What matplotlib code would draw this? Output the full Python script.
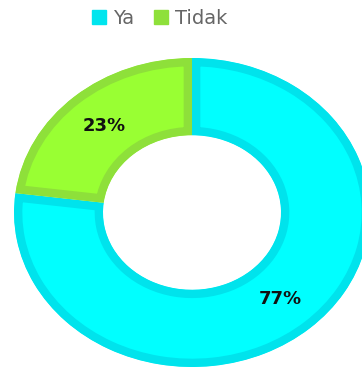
import matplotlib.pyplot as plt
from matplotlib.lines import Line2D

labels = ["Ya", "Tidak"]
values = [77, 23]
fill_colors = ["#00FFFF", "#99FF33"]
edge_colors = ["#00E3EC", "#8EE03A"]

fig = plt.figure(figsize=(3.62, 3.67), dpi=100)
ax = fig.add_axes([14 / 362, 0 / 367, 356 / 362, 309 / 367])

wedges, texts, autotexts = ax.pie(
    values, colors=fill_colors, startangle=90, counterclock=False,
    radius=1, autopct="%1.0f%%", pctdistance=0.75,
    wedgeprops=dict(width=0.5, linewidth=12),
    textprops=dict(fontsize=13, fontweight="bold", color="#111111"),
)
ax.set_aspect("auto")
ax.set_xlim(-1, 1)
ax.set_ylim(-1, 1)
ax.axis("off")

# dark band only on the inside of each slice
for w, ec in zip(wedges, edge_colors):
    w.set_edgecolor(ec)
    w.set_clip_on(True)
    w.set_clip_path(w.get_path(), w.get_transform())

handles = [Line2D([], [], marker="s", linestyle="none", markersize=9.5,
                  markerfacecolor=c, markeredgecolor=c) for c in ["#00E5EE", "#8EE03A"]]
fig.legend(handles, labels, loc="center", bbox_to_anchor=(160 / 362, 1 - 18 / 367),
           ncol=2, frameon=False, fontsize=14, labelcolor="#666666",
           handlelength=0.7, handletextpad=0.4, columnspacing=1.0)

fig.savefig("out.png", dpi=100)
